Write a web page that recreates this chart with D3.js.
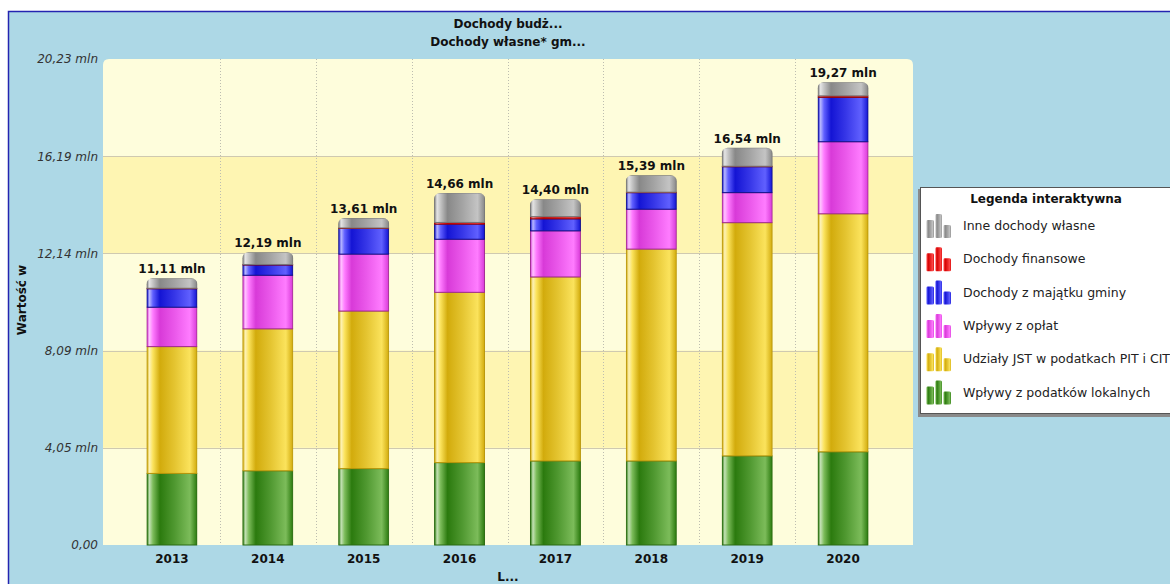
<!DOCTYPE html>
<html>
<head>
<meta charset="utf-8">
<script src="https://cdn.jsdelivr.net/npm/d3@7/dist/d3.min.js"></script>
<style>
  body { margin: 0; background: #fff; }
  svg { display: block; font-family: 'DejaVu Sans', Verdana, sans-serif; }
</style>
</head>
<body>
<div id="wrapper"></div>
<script>
// lata
const years = ['2013', '2014', '2015', '2016', '2017', '2018', '2019', '2020']

// serie w kolejności od dołu stosu (mln zł)
const localTaxes = [2.98, 3.09, 3.18, 3.43, 3.50, 3.50, 3.71, 3.88]
const pitCitShares = [5.28, 5.91, 6.56, 7.09, 7.66, 8.82, 9.71, 9.91]
const fees = [1.64, 2.23, 2.37, 2.21, 1.92, 1.66, 1.25, 3.00]
const propertyIncome = [0.77, 0.43, 1.07, 0.63, 0.50, 0.69, 1.08, 1.85]
const financialIncome = [0.02, 0.02, 0.02, 0.07, 0.09, 0.02, 0.02, 0.06]
const otherIncome = [0.42, 0.51, 0.41, 1.23, 0.73, 0.70, 0.77, 0.57]

const seriesNames = [
  'Wpływy z podatków lokalnych',
  'Udziały JST w podatkach PIT i CIT',
  'Wpływy z opłat',
  'Dochody z majątku gminy',
  'Dochody finansowe',
  'Inne dochody własne',
]
const seriesValues = [localTaxes, pitCitShares, fees, propertyIncome, financialIncome, otherIncome]

// skala osi Y
const yMax = 20.234
const yTicks = d3.range(6).map(i => yMax * i / 5)

const titleLines = ['Dochody budż...', 'Dochody własne* gm...']
const yTitle = 'Wartość w'
const xTitle = 'L...'
const legendTitle = 'Legenda interaktywna'

const palette = [
  { dark: '#2b7a0e', light: '#7cbc5a', edge: '#2a6a12' },
  { dark: '#d2ab0c', light: '#fbe35c', edge: '#b8960a' },
  { dark: '#d83ad8', light: '#ff7cff', edge: '#a02a90' },
  { dark: '#1414d4', light: '#6060ff', edge: '#10108a' },
  { dark: '#d40000', light: '#ff4a4a', edge: '#a00000' },
  { dark: '#888888', light: '#c4c4c4', edge: '#777777' },
]

const table = years.map((year, i) => {
  const row = { year }
  seriesNames.forEach((name, s) => { row[name] = seriesValues[s][i] })
  row.total = d3.sum(seriesValues, v => v[i])
  return row
})

const fmt = v => v === 0 ? '0,00' : v.toFixed(2).replace('.', ',') + ' mln'

const dimensions = {
  width: 1170,
  height: 584,
  plot: { left: 103, top: 59, right: 913, bottom: 545 },
}

const svg = d3.select('#wrapper')
  .append('svg')
  .attr('width', dimensions.width)
  .attr('height', dimensions.height)

const defs = svg.append('defs')

palette.forEach((c, i) => {
  const hl = d3.interpolateRgb(c.light, '#ffffff')(0.55)
  const g = defs.append('linearGradient')
    .attr('id', `grad${i}`)
    .attr('x1', '0%').attr('x2', '100%')
    .attr('y1', '0%').attr('y2', '0%')
  const stops = [
    [0, c.dark], [0.05, hl], [0.12, c.light], [0.26, c.dark],
    [0.55, d3.interpolateRgb(c.dark, c.light)(0.45)], [0.86, c.light], [1, c.dark],
  ]
  stops.forEach(([o, col]) => g.append('stop').attr('offset', o).attr('stop-color', col))
})

// tło i ramka
svg.append('rect')
  .attr('x', 8.5).attr('y', 11.5)
  .attr('width', dimensions.width).attr('height', dimensions.height)
  .attr('fill', '#add8e6')
  .attr('stroke', '#2424b0')
  .attr('stroke-width', 1.5)

const p = dimensions.plot

const yScale = d3.scaleLinear()
  .domain([0, yMax])
  .range([p.bottom, p.top])

const xScale = d3.scaleBand()
  .domain(years)
  .range([124, 891])
  .paddingInner(0.468)
  .paddingOuter(0.234)

// obszar wykresu
const r = 6
svg.append('path')
  .attr('d', `M${p.left},${p.bottom} V${p.top + r} Q${p.left},${p.top} ${p.left + r},${p.top}
    H${p.right - r} Q${p.right},${p.top} ${p.right},${p.top + r} V${p.bottom} Z`)
  .attr('fill', '#fefddc')

const bands = svg.append('g')
d3.pairs(yTicks).forEach(([a, b], i) => {
  if (i % 2 === 1) {
    bands.append('rect')
      .attr('x', p.left)
      .attr('y', yScale(b))
      .attr('width', p.right - p.left)
      .attr('height', yScale(a) - yScale(b))
      .attr('fill', '#fef5b2')
  }
})

svg.append('g')
  .selectAll('line')
  .data(yTicks.slice(1, -1))
  .join('line')
  .attr('x1', p.left).attr('x2', p.right)
  .attr('y1', d => Math.round(yScale(d)) + 0.5)
  .attr('y2', d => Math.round(yScale(d)) + 0.5)
  .attr('stroke', '#cfc9b0')

const step = xScale.step()
svg.append('g')
  .selectAll('line')
  .data(years.slice(1))
  .join('line')
  .attr('x1', d => Math.round(xScale(d) - step * xScale.paddingInner() / 2) + 0.5)
  .attr('x2', d => Math.round(xScale(d) - step * xScale.paddingInner() / 2) + 0.5)
  .attr('y1', p.top).attr('y2', p.bottom)
  .attr('stroke', '#bdbdb0')
  .attr('stroke-dasharray', '1,2')

// słupki
const stacked = d3.stack().keys(seriesNames)(table)

table.forEach((d, i) => {
  defs.append('clipPath')
    .attr('id', `clip${i}`)
    .append('rect')
    .attr('x', xScale(d.year))
    .attr('y', yScale(d.total))
    .attr('width', xScale.bandwidth())
    .attr('height', yScale(0) - yScale(d.total) + 10)
    .attr('rx', 6)
})

const bars = svg.append('g')
stacked.forEach((layer, s) => {
  bars.append('g')
    .selectAll('rect')
    .data(layer)
    .join('rect')
    .attr('clip-path', (d, i) => `url(#clip${i})`)
    .attr('x', d => xScale(d.data.year) + 0.5)
    .attr('y', d => yScale(d[1]))
    .attr('width', xScale.bandwidth() - 1)
    .attr('height', d => Math.max(0, yScale(d[0]) - yScale(d[1])))
    .attr('fill', `url(#grad${s})`)
    .attr('stroke', palette[s].edge)
    .attr('stroke-width', 1)
})

svg.append('g')
  .selectAll('text')
  .data(table)
  .join('text')
  .attr('x', d => xScale(d.year) + xScale.bandwidth() / 2)
  .attr('y', d => yScale(d.total) - 5)
  .attr('text-anchor', 'middle')
  .attr('font-size', 12)
  .attr('font-weight', 'bold')
  .attr('fill', '#111')
  .text(d => fmt(d.total))

// osie
const yAxis = svg.append('g')
  .attr('transform', `translate(${p.left},0)`)
  .call(d3.axisLeft(yScale).tickValues(yTicks).tickSize(0).tickPadding(5).tickFormat(fmt))
yAxis.select('.domain').remove()
yAxis.selectAll('text')
  .attr('font-size', 12)
  .attr('font-style', 'italic')
  .attr('font-family', "'DejaVu Sans', Verdana, sans-serif")
  .attr('fill', '#333')

const xAxis = svg.append('g')
  .attr('transform', `translate(0,${p.bottom})`)
  .call(d3.axisBottom(xScale).tickSize(0).tickPadding(9))
xAxis.select('.domain').remove()
xAxis.selectAll('text')
  .attr('font-size', 12)
  .attr('font-weight', 'bold')
  .attr('font-family', "'DejaVu Sans', Verdana, sans-serif")
  .attr('fill', '#111')

svg.append('text')
  .attr('transform', `translate(26,${(p.top + p.bottom) / 2 - 2}) rotate(-90)`)
  .attr('text-anchor', 'middle')
  .attr('font-size', 12)
  .attr('font-weight', 'bold')
  .attr('fill', '#111')
  .text(yTitle)

svg.append('text')
  .attr('x', (p.left + p.right) / 2)
  .attr('y', 581)
  .attr('text-anchor', 'middle')
  .attr('font-size', 12)
  .attr('font-weight', 'bold')
  .attr('fill', '#111')
  .text(xTitle)

svg.append('g')
  .selectAll('text')
  .data(titleLines)
  .join('text')
  .attr('x', (p.left + p.right) / 2)
  .attr('y', (d, i) => 28 + i * 18)
  .attr('text-anchor', 'middle')
  .attr('font-size', 12)
  .attr('font-weight', 'bold')
  .attr('fill', '#111')
  .text(d => d)

// legenda
const legend = svg.append('g').attr('transform', 'translate(920,187)')
legend.append('rect')
  .attr('x', -2).attr('y', 2)
  .attr('width', 300).attr('height', 228)
  .attr('fill', '#8a8a8a')
legend.append('rect')
  .attr('x', 0.5).attr('y', 0.5)
  .attr('width', 300).attr('height', 226)
  .attr('fill', '#fff')
  .attr('stroke', '#555')

legend.append('text')
  .attr('x', 126)
  .attr('y', 16)
  .attr('text-anchor', 'middle')
  .attr('font-size', 12)
  .attr('font-weight', 'bold')
  .attr('fill', '#111')
  .text(legendTitle)

const legendItems = seriesNames.map((name, s) => ({ name, s })).reverse()
const item = legend.selectAll('.item')
  .data(legendItems)
  .join('g')
  .attr('class', 'item')
  .attr('transform', (d, i) => `translate(0,${27 + i * 33.3})`)

const iconBars = [[6, 6, 8, 18], [15, 0, 7, 24], [23, 11, 8, 13]]
iconBars.forEach(([x, y, w, h]) => {
  item.append('rect')
    .attr('x', x).attr('y', y)
    .attr('width', w).attr('height', h)
    .attr('rx', 1.5)
    .attr('fill', d => `url(#grad${d.s})`)
})

item.append('text')
  .attr('x', 43)
  .attr('y', 16)
  .attr('font-size', 12.5)
  .attr('fill', '#222')
  .text(d => d.name)
</script>
</body>
</html>
